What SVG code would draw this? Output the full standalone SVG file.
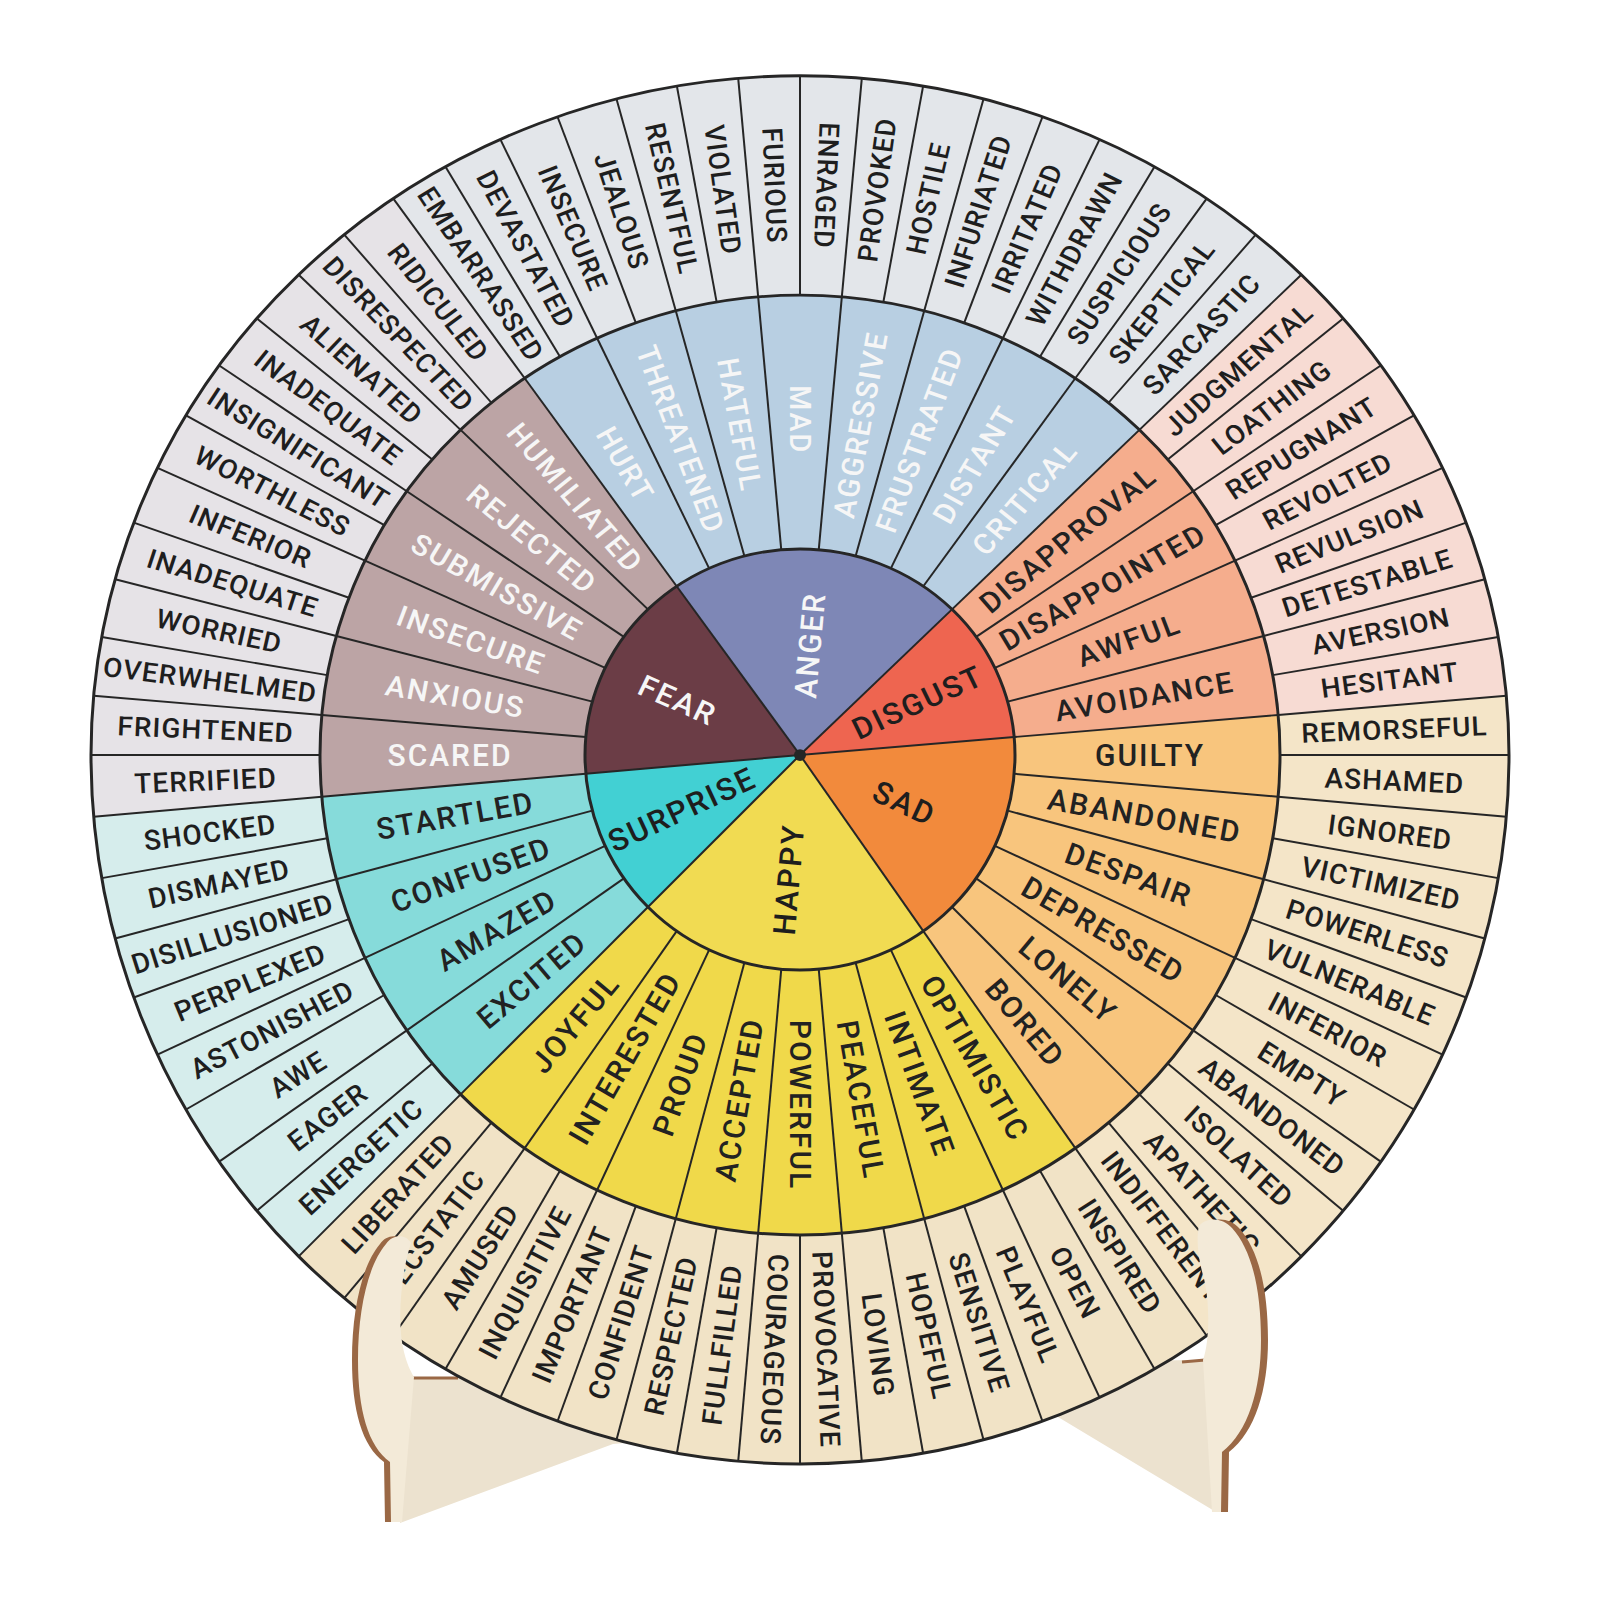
<svg xmlns="http://www.w3.org/2000/svg" width="1601" height="1601" viewBox="0 0 1601 1601">
<style>
text{text-anchor:middle;dominant-baseline:central;font-family:Roboto,"Liberation Sans",sans-serif;font-weight:500}
.o{font-size:28px;letter-spacing:1px;fill:#1e1e1e}
.m{font-size:30px;letter-spacing:2px;fill:#222}
.c{font-size:31px;letter-spacing:2px;fill:#1e1e1e}
.w{fill:#f6f6f6}
.div line,.div use{stroke:#262626;stroke-width:2}
.ring{fill:none;stroke:#262626;stroke-width:3}
</style>
<defs>
<line id="so" x1="0" y1="-480" x2="0" y2="-709"/>
<line id="sm" x1="0" y1="-215" x2="0" y2="-480"/>
<line id="sc" x1="0" y1="0" x2="0" y2="-215"/>
<clipPath id="cTop"><rect x="0" y="0" width="1601" height="755"/></clipPath>
<clipPath id="cBot"><rect x="0" y="755" width="1601" height="846"/></clipPath>
<g id="wheel">
<g id="anger">
<path fill="#e3e6ea" d="M-406.7,-580.8 A709,709 0 0 1 501.3,-501.3 L339.4,-339.4 A480,480 0 0 0 -275.3,-393.2 Z"/>
<path fill="#b8cfe2" d="M-275.3,-393.2 A480,480 0 0 1 339.4,-339.4 L152,-152 A215,215 0 0 0 -123.3,-176.1 Z"/>
<path fill="#7e87b6" d="M0,0 L-123.3,-176.1 A215,215 0 0 1 152,-152 Z"/>
<text class="o" transform="rotate(57.5) translate(-595 0)">EMBARRASSED</text>
<text class="o" transform="rotate(62.5) translate(-595 0)">DEVASTATED</text>
<text class="o" transform="rotate(67.5) translate(-595 0)">INSECURE</text>
<text class="o" transform="rotate(72.5) translate(-595 0)">JEALOUS</text>
<text class="o" transform="rotate(77.5) translate(-595 0)">RESENTFUL</text>
<text class="o" transform="rotate(82.5) translate(-595 0)">VIOLATED</text>
<text class="o" transform="rotate(87.5) translate(-595 0)">FURIOUS</text>
<text class="o" transform="rotate(92.5) translate(-595 0)">ENRAGED</text>
<text class="o" transform="rotate(-82.5) translate(595 0)">PROVOKED</text>
<text class="o" transform="rotate(-77.5) translate(595 0)">HOSTILE</text>
<text class="o" transform="rotate(-72.5) translate(595 0)">INFURIATED</text>
<text class="o" transform="rotate(-67.5) translate(595 0)">IRRITATED</text>
<text class="o" transform="rotate(-62.5) translate(595 0)">WITHDRAWN</text>
<text class="o" transform="rotate(-57.5) translate(595 0)">SUSPICIOUS</text>
<text class="o" transform="rotate(-52.5) translate(595 0)">SKEPTICAL</text>
<text class="o" transform="rotate(-47.5) translate(595 0)">SARCASTIC</text>
<text class="m w" transform="rotate(60) translate(-350 0)">HURT</text>
<text class="m w" transform="rotate(70) translate(-350 0)">THREATENED</text>
<text class="m w" transform="rotate(80) translate(-350 0)">HATEFUL</text>
<text class="m w" transform="rotate(90) translate(-350 0)">MAD</text>
<text class="m w" transform="rotate(-80) translate(350 0)">AGGRESSIVE</text>
<text class="m w" transform="rotate(-70) translate(350 0)">FRUSTRATED</text>
<text class="m w" transform="rotate(-60) translate(350 0)">DISTANT</text>
<text class="m w" transform="rotate(-50) translate(350 0)">CRITICAL</text>
<text class="c w" transform="rotate(-85) translate(115 0)">ANGER</text>
</g>
<g id="disgust">
<path fill="#f7dbd3" d="M501.3,-501.3 A709,709 0 0 1 706.3,-61.8 L478.2,-41.9 A480,480 0 0 0 339.4,-339.4 Z"/>
<path fill="#f5ad8d" d="M339.4,-339.4 A480,480 0 0 1 478.2,-41.9 L214.2,-18.7 A215,215 0 0 0 152,-152 Z"/>
<path fill="#ee6550" d="M0,0 L152,-152 A215,215 0 0 1 214.2,-18.7 Z"/>
<text class="o" transform="rotate(-42.5) translate(595 0)">JUDGMENTAL</text>
<text class="o" transform="rotate(-37.5) translate(595 0)">LOATHING</text>
<text class="o" transform="rotate(-32.5) translate(595 0)">REPUGNANT</text>
<text class="o" transform="rotate(-27.5) translate(595 0)">REVOLTED</text>
<text class="o" transform="rotate(-22.5) translate(595 0)">REVULSION</text>
<text class="o" transform="rotate(-17.5) translate(595 0)">DETESTABLE</text>
<text class="o" transform="rotate(-12.5) translate(595 0)">AVERSION</text>
<text class="o" transform="rotate(-7.5) translate(595 0)">HESITANT</text>
<text class="m" transform="rotate(-40) translate(350 0)">DISAPPROVAL</text>
<text class="m" transform="rotate(-30) translate(350 0)">DISAPPOINTED</text>
<text class="m" transform="rotate(-20) translate(350 0)">AWFUL</text>
<text class="m" transform="rotate(-10) translate(350 0)">AVOIDANCE</text>
<text class="c" transform="rotate(-25) translate(130 0)">DISGUST</text>
</g>
<g id="sad">
<path fill="#f4e5c8" d="M706.3,-61.8 A709,709 0 0 1 406.7,580.8 L275.3,393.2 A480,480 0 0 0 478.2,-41.9 Z"/>
<path fill="#f8c57d" d="M478.2,-41.9 A480,480 0 0 1 275.3,393.2 L123.3,176.1 A215,215 0 0 0 214.2,-18.7 Z"/>
<path fill="#f28a3c" d="M0,0 L214.2,-18.7 A215,215 0 0 1 123.3,176.1 Z"/>
<text class="o" transform="rotate(-2.5) translate(595 0)">REMORSEFUL</text>
<text class="o" transform="rotate(2.5) translate(595 0)">ASHAMED</text>
<text class="o" transform="rotate(7.5) translate(595 0)">IGNORED</text>
<text class="o" transform="rotate(12.5) translate(595 0)">VICTIMIZED</text>
<text class="o" transform="rotate(17.5) translate(595 0)">POWERLESS</text>
<text class="o" transform="rotate(22.5) translate(595 0)">VULNERABLE</text>
<text class="o" transform="rotate(27.5) translate(595 0)">INFERIOR</text>
<text class="o" transform="rotate(32.5) translate(595 0)">EMPTY</text>
<text class="o" transform="rotate(37.5) translate(595 0)">ABANDONED</text>
<text class="o" transform="rotate(42.5) translate(595 0)">ISOLATED</text>
<text class="o" transform="rotate(47.5) translate(595 0)">APATHETIC</text>
<text class="o" transform="rotate(52.5) translate(595 0)">INDIFFERENT</text>
<text class="m" transform="rotate(0) translate(350 0)">GUILTY</text>
<text class="m" transform="rotate(10) translate(350 0)">ABANDONED</text>
<text class="m" transform="rotate(20) translate(350 0)">DESPAIR</text>
<text class="m" transform="rotate(30) translate(350 0)">DEPRESSED</text>
<text class="m" transform="rotate(40) translate(350 0)">LONELY</text>
<text class="m" transform="rotate(50) translate(350 0)">BORED</text>
<text class="c" transform="rotate(25) translate(115 0)">SAD</text>
</g>
<g id="happy">
<path fill="#f1e3c6" d="M406.7,580.8 A709,709 0 0 1 -501.3,501.3 L-339.4,339.4 A480,480 0 0 0 275.3,393.2 Z"/>
<path fill="#f0d94a" d="M275.3,393.2 A480,480 0 0 1 -339.4,339.4 L-152,152 A215,215 0 0 0 123.3,176.1 Z"/>
<path fill="#f1db52" d="M0,0 L123.3,176.1 A215,215 0 0 1 -152,152 Z"/>
<text class="o" transform="rotate(57.5) translate(595 0)">INSPIRED</text>
<text class="o" transform="rotate(62.5) translate(595 0)">OPEN</text>
<text class="o" transform="rotate(67.5) translate(595 0)">PLAYFUL</text>
<text class="o" transform="rotate(72.5) translate(595 0)">SENSITIVE</text>
<text class="o" transform="rotate(77.5) translate(595 0)">HOPEFUL</text>
<text class="o" transform="rotate(82.5) translate(595 0)">LOVING</text>
<text class="o" transform="rotate(87.5) translate(595 0)">PROVOCATIVE</text>
<text class="o" transform="rotate(92.5) translate(595 0)">COURAGEOUS</text>
<text class="o" transform="rotate(-82.5) translate(-595 0)">FULLFILLED</text>
<text class="o" transform="rotate(-77.5) translate(-595 0)">RESPECTED</text>
<text class="o" transform="rotate(-72.5) translate(-595 0)">CONFIDENT</text>
<text class="o" transform="rotate(-67.5) translate(-595 0)">IMPORTANT</text>
<text class="o" transform="rotate(-62.5) translate(-595 0)">INQUISITIVE</text>
<text class="o" transform="rotate(-57.5) translate(-595 0)">AMUSED</text>
<text class="o" transform="rotate(-52.5) translate(-595 0)">ECSTATIC</text>
<text class="o" transform="rotate(-47.5) translate(-595 0)">LIBERATED</text>
<text class="m" transform="rotate(60) translate(350 0)">OPTIMISTIC</text>
<text class="m" transform="rotate(70) translate(350 0)">INTIMATE</text>
<text class="m" transform="rotate(80) translate(350 0)">PEACEFUL</text>
<text class="m" transform="rotate(90) translate(350 0)">POWERFUL</text>
<text class="m" transform="rotate(-80) translate(-350 0)">ACCEPTED</text>
<text class="m" transform="rotate(-70) translate(-350 0)">PROUD</text>
<text class="m" transform="rotate(-60) translate(-350 0)">INTERESTED</text>
<text class="m" transform="rotate(-50) translate(-350 0)">JOYFUL</text>
<text class="c" transform="rotate(-85) translate(-125 0)">HAPPY</text>
</g>
<g id="surprise">
<path fill="#d6edec" d="M-501.3,501.3 A709,709 0 0 1 -706.3,61.8 L-478.2,41.9 A480,480 0 0 0 -339.4,339.4 Z"/>
<path fill="#86dbda" d="M-339.4,339.4 A480,480 0 0 1 -478.2,41.9 L-214.2,18.7 A215,215 0 0 0 -152,152 Z"/>
<path fill="#42d0d3" d="M0,0 L-152,152 A215,215 0 0 1 -214.2,18.7 Z"/>
<text class="o" transform="rotate(-42.5) translate(-595 0)">ENERGETIC</text>
<text class="o" transform="rotate(-37.5) translate(-595 0)">EAGER</text>
<text class="o" transform="rotate(-32.5) translate(-595 0)">AWE</text>
<text class="o" transform="rotate(-27.5) translate(-595 0)">ASTONISHED</text>
<text class="o" transform="rotate(-22.5) translate(-595 0)">PERPLEXED</text>
<text class="o" transform="rotate(-17.5) translate(-595 0)">DISILLUSIONED</text>
<text class="o" transform="rotate(-12.5) translate(-595 0)">DISMAYED</text>
<text class="o" transform="rotate(-7.5) translate(-595 0)">SHOCKED</text>
<text class="m" transform="rotate(-40) translate(-350 0)">EXCITED</text>
<text class="m" transform="rotate(-30) translate(-350 0)">AMAZED</text>
<text class="m" transform="rotate(-20) translate(-350 0)">CONFUSED</text>
<text class="m" transform="rotate(-10) translate(-350 0)">STARTLED</text>
<text class="c" transform="rotate(-25) translate(-130 0)">SURPRISE</text>
</g>
<g id="fear">
<path fill="#e6e3e7" d="M-706.3,61.8 A709,709 0 0 1 -406.7,-580.8 L-275.3,-393.2 A480,480 0 0 0 -478.2,41.9 Z"/>
<path fill="#bca4a5" d="M-478.2,41.9 A480,480 0 0 1 -275.3,-393.2 L-123.3,-176.1 A215,215 0 0 0 -214.2,18.7 Z"/>
<path fill="#6b3d46" d="M0,0 L-214.2,18.7 A215,215 0 0 1 -123.3,-176.1 Z"/>
<text class="o" transform="rotate(-2.5) translate(-595 0)">TERRIFIED</text>
<text class="o" transform="rotate(2.5) translate(-595 0)">FRIGHTENED</text>
<text class="o" transform="rotate(7.5) translate(-595 0)">OVERWHELMED</text>
<text class="o" transform="rotate(12.5) translate(-595 0)">WORRIED</text>
<text class="o" transform="rotate(17.5) translate(-595 0)">INADEQUATE</text>
<text class="o" transform="rotate(22.5) translate(-595 0)">INFERIOR</text>
<text class="o" transform="rotate(27.5) translate(-595 0)">WORTHLESS</text>
<text class="o" transform="rotate(32.5) translate(-595 0)">INSIGNIFICANT</text>
<text class="o" transform="rotate(37.5) translate(-595 0)">INADEQUATE</text>
<text class="o" transform="rotate(42.5) translate(-595 0)">ALIENATED</text>
<text class="o" transform="rotate(47.5) translate(-595 0)">DISRESPECTED</text>
<text class="o" transform="rotate(52.5) translate(-595 0)">RIDICULED</text>
<text class="m w" transform="rotate(0) translate(-350 0)">SCARED</text>
<text class="m w" transform="rotate(10) translate(-350 0)">ANXIOUS</text>
<text class="m w" transform="rotate(20) translate(-350 0)">INSECURE</text>
<text class="m w" transform="rotate(30) translate(-350 0)">SUBMISSIVE</text>
<text class="m w" transform="rotate(40) translate(-350 0)">REJECTED</text>
<text class="m w" transform="rotate(50) translate(-350 0)">HUMILIATED</text>
<text class="c w" transform="rotate(25) translate(-135 0)">FEAR</text>
</g>
<g id="dividers" class="div">
<use href="#so" transform="rotate(0)"/><use href="#so" transform="rotate(5)"/><use href="#so" transform="rotate(10)"/><use href="#so" transform="rotate(15)"/><use href="#so" transform="rotate(20)"/><use href="#so" transform="rotate(25)"/><use href="#so" transform="rotate(30)"/><use href="#so" transform="rotate(35)"/><use href="#so" transform="rotate(40)"/><use href="#so" transform="rotate(45)"/><use href="#so" transform="rotate(50)"/><use href="#so" transform="rotate(55)"/>
<use href="#so" transform="rotate(60)"/><use href="#so" transform="rotate(65)"/><use href="#so" transform="rotate(70)"/><use href="#so" transform="rotate(75)"/><use href="#so" transform="rotate(80)"/><use href="#so" transform="rotate(85)"/><use href="#so" transform="rotate(90)"/><use href="#so" transform="rotate(95)"/><use href="#so" transform="rotate(100)"/><use href="#so" transform="rotate(105)"/><use href="#so" transform="rotate(110)"/><use href="#so" transform="rotate(115)"/>
<use href="#so" transform="rotate(120)"/><use href="#so" transform="rotate(125)"/><use href="#so" transform="rotate(130)"/><use href="#so" transform="rotate(135)"/><use href="#so" transform="rotate(140)"/><use href="#so" transform="rotate(145)"/><use href="#so" transform="rotate(150)"/><use href="#so" transform="rotate(155)"/><use href="#so" transform="rotate(160)"/><use href="#so" transform="rotate(165)"/><use href="#so" transform="rotate(170)"/><use href="#so" transform="rotate(175)"/>
<use href="#so" transform="rotate(180)"/><use href="#so" transform="rotate(185)"/><use href="#so" transform="rotate(190)"/><use href="#so" transform="rotate(195)"/><use href="#so" transform="rotate(200)"/><use href="#so" transform="rotate(205)"/><use href="#so" transform="rotate(210)"/><use href="#so" transform="rotate(215)"/><use href="#so" transform="rotate(220)"/><use href="#so" transform="rotate(225)"/><use href="#so" transform="rotate(230)"/><use href="#so" transform="rotate(235)"/>
<use href="#so" transform="rotate(240)"/><use href="#so" transform="rotate(245)"/><use href="#so" transform="rotate(250)"/><use href="#so" transform="rotate(255)"/><use href="#so" transform="rotate(260)"/><use href="#so" transform="rotate(265)"/><use href="#so" transform="rotate(270)"/><use href="#so" transform="rotate(275)"/><use href="#so" transform="rotate(280)"/><use href="#so" transform="rotate(285)"/><use href="#so" transform="rotate(290)"/><use href="#so" transform="rotate(295)"/>
<use href="#so" transform="rotate(300)"/><use href="#so" transform="rotate(305)"/><use href="#so" transform="rotate(310)"/><use href="#so" transform="rotate(315)"/><use href="#so" transform="rotate(320)"/><use href="#so" transform="rotate(325)"/><use href="#so" transform="rotate(330)"/><use href="#so" transform="rotate(335)"/><use href="#so" transform="rotate(340)"/><use href="#so" transform="rotate(345)"/><use href="#so" transform="rotate(350)"/><use href="#so" transform="rotate(355)"/>
<use href="#sm" transform="rotate(5)"/><use href="#sm" transform="rotate(15)"/><use href="#sm" transform="rotate(25)"/><use href="#sm" transform="rotate(35)"/><use href="#sm" transform="rotate(45)"/><use href="#sm" transform="rotate(55)"/><use href="#sm" transform="rotate(65)"/><use href="#sm" transform="rotate(75)"/><use href="#sm" transform="rotate(85)"/><use href="#sm" transform="rotate(95)"/><use href="#sm" transform="rotate(105)"/><use href="#sm" transform="rotate(115)"/>
<use href="#sm" transform="rotate(125)"/><use href="#sm" transform="rotate(135)"/><use href="#sm" transform="rotate(145)"/><use href="#sm" transform="rotate(155)"/><use href="#sm" transform="rotate(165)"/><use href="#sm" transform="rotate(175)"/><use href="#sm" transform="rotate(185)"/><use href="#sm" transform="rotate(195)"/><use href="#sm" transform="rotate(205)"/><use href="#sm" transform="rotate(215)"/><use href="#sm" transform="rotate(225)"/><use href="#sm" transform="rotate(235)"/>
<use href="#sm" transform="rotate(245)"/><use href="#sm" transform="rotate(255)"/><use href="#sm" transform="rotate(265)"/><use href="#sm" transform="rotate(275)"/><use href="#sm" transform="rotate(285)"/><use href="#sm" transform="rotate(295)"/><use href="#sm" transform="rotate(305)"/><use href="#sm" transform="rotate(315)"/><use href="#sm" transform="rotate(325)"/><use href="#sm" transform="rotate(335)"/><use href="#sm" transform="rotate(345)"/><use href="#sm" transform="rotate(355)"/>
<use href="#sc" transform="rotate(45)"/><use href="#sc" transform="rotate(85)"/><use href="#sc" transform="rotate(145)"/><use href="#sc" transform="rotate(225)"/><use href="#sc" transform="rotate(265)"/><use href="#sc" transform="rotate(325)"/>
</g>
<g id="rings">
<circle class="ring" r="709"/>
<circle class="ring" r="480"/>
<circle class="ring" r="215"/>
<circle r="6" fill="#262626"/>
</g>
</g>
</defs>
<rect width="1601" height="1601" fill="#ffffff"/>
<g id="stand-back">
<path id="plate-left" fill="#ece2cf" d="M405,1378 L660,1378 L660,1440 L613,1444 L400,1523 Z"/>
<line x1="408" y1="1378" x2="458" y2="1378" stroke="#9a6845" stroke-width="3"/>
<path id="plate-right" fill="#ece2cf" d="M1000,1362 L1205,1360 L1216,1512 L1058,1417 L1000,1417 Z"/>
<line x1="1182" y1="1362" x2="1205" y2="1360" stroke="#9a6845" stroke-width="3"/>
</g>
<g clip-path="url(#cTop)"><use href="#wheel" transform="translate(800 755) scale(1 0.958)"/></g>
<g clip-path="url(#cBot)"><use href="#wheel" transform="translate(800 755)"/></g>
<g id="leg-left">
<path fill="#9a6845" transform="translate(-6 0)" d="M386,1244 C392,1235 405,1233 411,1243 C402,1270 396,1320 404,1352 C407,1364 410,1370 414,1377 L402,1522 L391,1522 L390,1462 C368,1446 358,1410 358,1360 C358,1310 368,1265 386,1244 Z"/>
<path fill="#f3ead8" d="M386,1244 C392,1235 405,1233 411,1243 C402,1270 396,1320 404,1352 C407,1364 410,1370 414,1377 L402,1522 L391,1522 L390,1462 C368,1446 358,1410 358,1360 C358,1310 368,1265 386,1244 Z"/>
</g>
<g id="leg-right">
<path fill="#9a6845" transform="translate(7 0)" d="M1199,1226 C1206,1217 1222,1217 1232,1228 C1252,1250 1261,1290 1261,1340 C1261,1390 1248,1432 1222,1452 L1221,1512 L1212,1512 L1203,1360 C1210,1340 1210,1300 1203,1275 C1198,1258 1196,1238 1199,1226 Z"/>
<path fill="#f3ead8" d="M1199,1226 C1206,1217 1222,1217 1232,1228 C1252,1250 1261,1290 1261,1340 C1261,1390 1248,1432 1222,1452 L1221,1512 L1212,1512 L1203,1360 C1210,1340 1210,1300 1203,1275 C1198,1258 1196,1238 1199,1226 Z"/>
</g>
</svg>
